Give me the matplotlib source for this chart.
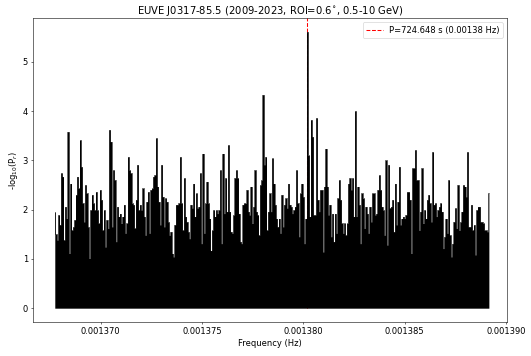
import numpy as np
import matplotlib
matplotlib.use("Agg")
import matplotlib.pyplot as plt

title = "EUVE J0317-85.5 (2009-2023, ROI=0.6$^{\\circ}$, 0.5-10 GeV)"
legend_label = "P=724.648 s (0.00138 Hz)"
xlabel = "Frequency (Hz)"
ylabel = "-log$_{10}$(P$_r$)"

f_start = 0.00136773
f_end = 0.00138915

power = [
    # segment 1
    1.95, 1.50, 1.38, 1.89, 1.69, 2.74, 2.67, 1.38, 2.06, 1.82, 3.58, 1.11, 2.53, 1.58, 1.65, 1.79,
    2.30, 2.67, 2.43, 3.41, 2.87, 2.13, 1.75, 2.50, 2.33, 1.65, 1.01, 1.99, 2.30, 2.13, 1.99, 2.36,
    1.99, 1.72, 2.40, 2.20, 1.58, 1.99, 1.24, 1.79, 1.62, 3.62, 3.38, 1.65, 2.80, 2.60, 1.35, 2.06,
    1.86, 1.92, 1.72, 1.86, 2.10,
    # segment 2
    1.52, 1.72, 3.07, 2.80, 2.74, 2.13, 2.10, 1.62, 2.20, 2.91, 1.99, 2.10, 1.99, 2.43, 1.86, 1.48,
    2.16, 2.36, 1.52, 2.40, 2.43, 2.67, 2.70, 3.45, 2.47, 2.16, 1.69, 2.91, 2.26, 1.65, 2.23, 2.16,
    1.75, 1.48, 1.55, 1.11, 1.04, 1.69, 2.10, 2.10, 2.13, 3.07, 2.13, 1.58, 2.64, 1.86, 1.75, 1.55,
    1.41, 2.10, 2.03, 2.53, 1.86, 2.33,
    # segment 3
    2.03, 2.06, 2.74, 1.31, 3.14, 1.52, 2.13, 2.57, 2.13, 1.82, 1.17, 1.58, 1.99, 1.86, 1.99, 1.92,
    1.99, 2.80, 1.31, 3.14, 1.92, 2.64, 1.96, 3.31, 1.96, 1.55, 1.52, 1.89, 2.64, 2.80, 2.64, 1.92,
    1.35, 1.31, 2.10, 2.13, 2.13, 2.40, 1.96, 1.89, 2.47, 1.72, 2.06, 2.80, 1.96, 1.89, 1.48, 2.50,
    2.60, 4.33, 2.91, 3.07, 1.58, 1.96,
    # segment 4
    2.33, 1.96, 3.04, 2.53, 2.10, 1.82, 1.65, 1.82, 1.52, 2.30, 1.65, 2.10, 2.23, 2.03, 2.53, 2.10,
    2.06, 1.92, 1.99, 2.06, 2.80, 2.13, 1.45, 2.33, 2.53, 2.26, 1.31, 1.82, 5.61, 3.10, 1.86, 3.82,
    3.48, 1.89, 1.89, 3.86, 2.20, 1.96, 2.40, 2.40, 1.14, 2.47, 3.24, 2.47, 1.89, 2.10, 1.45, 1.92,
    1.35, 1.92, 1.52, 2.23, 2.60, 2.20,
    # segment 5
    1.72, 1.52, 1.72, 1.48, 1.72, 2.53, 2.64, 2.40, 2.64, 1.86, 4.00, 1.86, 2.47, 2.10, 1.31, 2.33,
    2.23, 1.62, 2.06, 1.92, 1.52, 2.06, 1.75, 2.33, 2.33, 1.89, 1.92, 2.40, 2.70, 2.40, 2.06, 1.99,
    1.48, 3.00, 1.28, 2.91, 2.03, 2.06, 2.20, 1.55, 2.53, 1.69, 2.16, 2.87, 1.69, 1.82, 1.86, 1.82,
    1.89, 2.36, 2.36, 2.20, 1.11, 2.84,
    # segment 6
    2.84, 3.21, 2.60, 2.60, 1.58, 1.96, 2.84, 1.72, 1.99, 1.82, 2.20, 2.30, 2.13, 1.75, 3.17, 2.10,
    2.13, 1.86, 1.99, 2.06, 2.13, 1.96, 1.21, 1.45, 1.82, 1.52, 2.60, 1.48, 1.04, 1.31, 1.75, 2.03,
    1.62, 2.50, 1.58, 1.75, 1.96, 2.50, 2.47, 2.26, 3.17, 1.65, 1.65, 2.10, 1.58, 1.69, 1.08, 1.99,
    2.06, 2.06, 1.75, 1.75, 1.72, 1.58, 1.58, 1.55, 2.33,
]

xticks = [0.001370, 0.001375, 0.001380, 0.001385, 0.001390]
yticks = [0, 1, 2, 3, 4, 5]
xlim = (0.00136664, 0.00139006)

power = np.array(power)
freq = np.linspace(f_start, f_end, len(power))
peak_freq = freq[np.argmax(power)]

plt.rcParams['font.family'] = ['DejaVu Sans']
plt.rcParams['font.size'] = 12

fig = plt.figure(figsize=(10.62, 7.12), dpi=50)
ax = fig.add_axes([0.0616, 0.0955, 0.8938, 0.8539])

ylo, yhi = -0.05 * power.max(), 1.05 * power.max()
ax.set_ylim(ylo, yhi)
ax.set_xlim(*xlim)

ax.axvline(peak_freq, ymin=(0 - ylo) / (yhi - ylo), ymax=1, color='red', linestyle='--',
           linewidth=1.5, label=legend_label, zorder=1)
ax.fill_between(freq, 0, power, step='mid', color='black', linewidth=0, zorder=2)
ax.plot(freq, power, drawstyle='steps-mid', color='black', linewidth=0.8, zorder=3)

ax.set_xticks(xticks)
ax.set_xticklabels(["%.6f" % t for t in xticks])
ax.set_yticks(yticks)

ax.set_title(title)
ax.set_xlabel(xlabel)
ax.set_ylabel(ylabel)
ax.legend(loc='upper right')

fig.savefig("out.png", dpi=50)
